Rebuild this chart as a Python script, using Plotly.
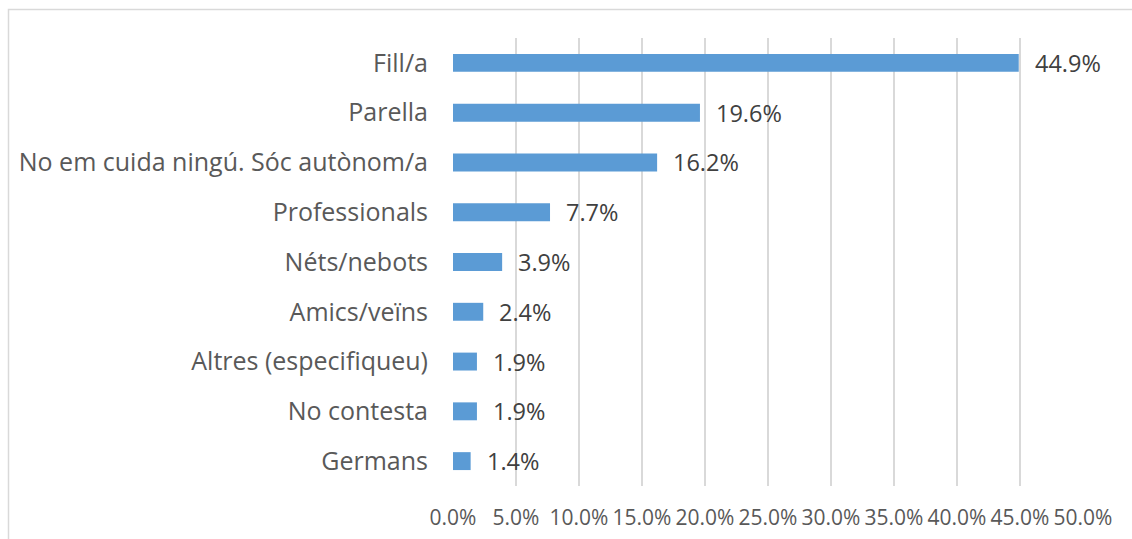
import plotly.graph_objects as go

categories = ["Fill/a", "Parella", "No em cuida ningú. Sóc autònom/a", "Professionals",
              "Néts/nebots", "Amics/veïns", "Altres (especifiqueu)", "No contesta", "Germans"]
values = [44.9, 19.6, 16.2, 7.7, 3.9, 2.4, 1.9, 1.9, 1.4]
tick_vals = [0, 5, 10, 15, 20, 25, 30, 35, 40, 45, 50]
tick_text = ["0.0%", "5.0%", "10.0%", "15.0%", "20.0%", "25.0%", "30.0%", "35.0%", "40.0%", "45.0%", "50.0%"]

FONT = "Open Sans"
fig = go.Figure()
fig.add_trace(go.Bar(
    x=values, y=categories, orientation="h",
    marker=dict(color="#5B9BD5", line=dict(width=0)),
    width=0.36, hoverinfo="x+y",
))

for c, v in zip(categories, values):
    fig.add_annotation(x=v, y=c, xref="x", yref="y", text=f"{v:.1f}%",
                       showarrow=False, xanchor="left", yanchor="middle", xshift=14,
                       font=dict(family=FONT, size=23.5, color="#404040"))

L, R, T, B = 453, 49, 38, 53
W, H = 1132, 539
pw, ph = W - L - R, H - T - B
def px_x(p):
    return (p - L) / pw
def px_y(p):
    return (H - B - p) / ph

fig.add_shape(type="rect", xref="paper", yref="paper",
              x0=px_x(8.5), x1=px_x(1145), y0=px_y(9.5), y1=px_y(560),
              line=dict(color="#D9D9D9", width=1.5), fillcolor="rgba(0,0,0,0)", layer="below")

fig.update_layout(
    width=W, height=H,
    margin=dict(l=L, r=R, t=T, b=B, pad=0, autoexpand=False),
    paper_bgcolor="white", plot_bgcolor="white",
    showlegend=False,
    xaxis=dict(range=[0, 50], tickvals=tick_vals, ticktext=tick_text,
               showgrid=True, gridcolor="#D9D9D9", gridwidth=1.5,
               zeroline=False, showline=False, ticks="", automargin=False,
               ticklabelstandoff=17,
               tickfont=dict(family=FONT, size=21, color="#595959")),
    yaxis=dict(categoryorder="array", categoryarray=categories, autorange="reversed",
               showgrid=False, zeroline=False, showline=False, ticks="", automargin=False,
               ticklabelstandoff=24,
               tickfont=dict(family=FONT, size=25, color="#595959")),
)

fig.write_html("out.html", config={"displayModeBar": False},
               post_script="document.body.style.margin='0';")
